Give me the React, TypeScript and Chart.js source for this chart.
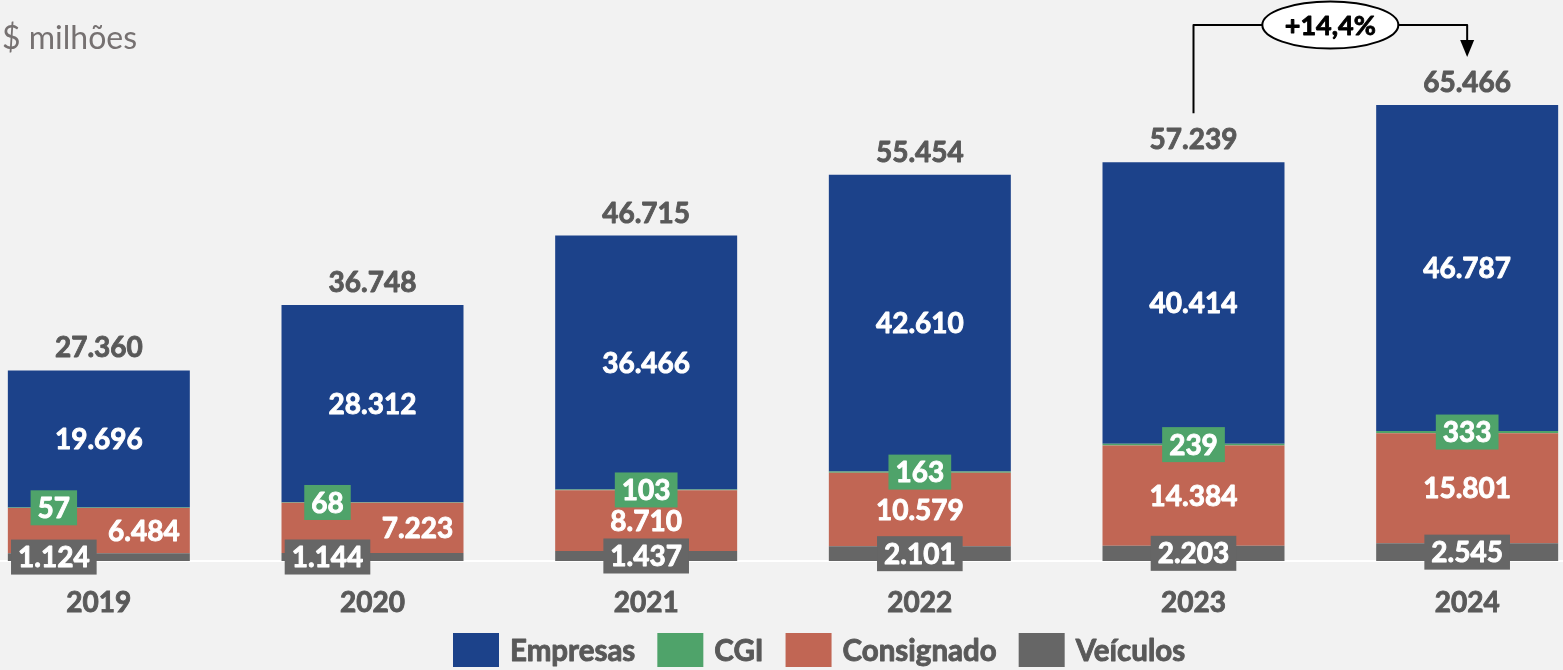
import React, { useEffect, useRef } from 'react';
import { Chart, registerables } from 'chart.js';

Chart.register(...registerables);

// ---- data ----
const years = ['2019', '2020', '2021', '2022', '2023', '2024'];
const veiculos = [1124, 1144, 1437, 2101, 2203, 2545];
const consignado = [6484, 7223, 8710, 10579, 14384, 15801];
const cgi = [57, 68, 103, 163, 239, 333];
const empresas = [19696, 28312, 36466, 42610, 40414, 46787];
const totals = [27360, 36748, 46715, 55454, 57239, 65466];
const growthLabel = '+14,4%';
const unitLabel = '$ milhões';

// ---- styles ----
const COLORS = {
  empresas: '#1C428A',
  cgi: '#4FA36A',
  consignado: '#C16654',
  veiculos: '#666666',
};
const TEXT_GRAY = '#595959';
const FONT = 'Lato, "Open Sans", sans-serif';
const SPLIT_IDX = [0, 1]; // categories whose small labels sit beside each other
const SPLIT_OFF = 45;
const CANVAS_LEFT = -38;
const CANVAS_W = 1642;
const CANVAS_H = 670;
const HEAVY = 0.9;

const fmt = (n: number) => String(n).replace(/\B(?=(\d{3})+(?!\d))/g, '.');

function heavyText(ctx: CanvasRenderingContext2D, text: string, x: number, y: number, color: string) {
  ctx.fillStyle = color;
  ctx.strokeStyle = color;
  ctx.lineWidth = HEAVY;
  ctx.lineJoin = 'round';
  ctx.fillText(text, x, y);
  ctx.strokeText(text, x, y);
}

function drawBox(ctx: CanvasRenderingContext2D, text: string, x: number, y: number, color: string) {
  const w = ctx.measureText(text).width;
  ctx.fillStyle = color;
  ctx.fillRect(x - w / 2 - 7, y - 17.5, w + 14, 35);
  heavyText(ctx, text, x, y + 1, '#FFFFFF');
}

const labelsPlugin = {
  id: 'customLabels',
  afterDatasetsDraw(chart: any) {
    const ctx: CanvasRenderingContext2D = chart.ctx;
    const metas = [0, 1, 2, 3].map((i) => chart.getDatasetMeta(i));
    ctx.save();
    ctx.textAlign = 'center';
    ctx.textBaseline = 'middle';
    ctx.font = `bold 28px ${FONT}`;
    years.forEach((_, j) => {
      const split = SPLIT_IDX.includes(j);
      const v = metas[0].data[j];
      const c = metas[1].data[j];
      const g = metas[2].data[j];
      const e = metas[3].data[j];
      heavyText(ctx, fmt(empresas[j]), e.x, (e.y + e.base) / 2 + 1, '#FFFFFF');
      heavyText(ctx, fmt(consignado[j]), c.x + (split ? SPLIT_OFF : 0), (c.y + c.base) / 2 + 1, '#FFFFFF');
      drawBox(ctx, fmt(veiculos[j]), v.x - (split ? SPLIT_OFF : 0), (v.y + v.base) / 2, COLORS.veiculos);
      drawBox(ctx, fmt(cgi[j]), g.x - (split ? SPLIT_OFF : 0), (g.y + g.base) / 2, COLORS.cgi);
      heavyText(ctx, fmt(totals[j]), e.x, e.y - 22, TEXT_GRAY);
    });

    // unit label
    ctx.textAlign = 'left';
    ctx.font = `32px ${FONT}`;
    ctx.fillStyle = '#767171';
    ctx.fillText(unitLabel, 2 - CANVAS_LEFT, 39);

    // legend
    const items = [
      { label: 'Empresas', color: COLORS.empresas },
      { label: 'CGI', color: COLORS.cgi },
      { label: 'Consignado', color: COLORS.consignado },
      { label: 'Veículos', color: COLORS.veiculos },
    ];
    ctx.font = `bold 29.5px ${FONT}`;
    const widths = items.map((it) => ctx.measureText(it.label).width);
    let lx = 453 - CANVAS_LEFT;
    items.forEach((it, i) => {
      ctx.fillStyle = it.color;
      ctx.fillRect(lx, 633, 46, 34);
      lx += 57;
      heavyText(ctx, it.label, lx, 651, TEXT_GRAY);
      lx += widths[i] + 22;
    });

    // growth annotation between last two bars
    const a = metas[3].data[4];
    const b = metas[3].data[5];
    const lineY = 25;
    ctx.strokeStyle = '#000000';
    ctx.lineWidth = 2;
    ctx.beginPath();
    ctx.moveTo(a.x, a.y - 49);
    ctx.lineTo(a.x, lineY);
    ctx.lineTo(b.x, lineY);
    ctx.lineTo(b.x, b.y - 64);
    ctx.stroke();
    ctx.fillStyle = '#000000';
    ctx.beginPath();
    ctx.moveTo(b.x - 7, b.y - 65);
    ctx.lineTo(b.x + 7, b.y - 65);
    ctx.lineTo(b.x, b.y - 48);
    ctx.closePath();
    ctx.fill();
    const mx = (a.x + b.x) / 2;
    ctx.beginPath();
    ctx.ellipse(mx, lineY, 68, 23.5, 0, 0, Math.PI * 2);
    ctx.fillStyle = '#FFFFFF';
    ctx.fill();
    ctx.lineWidth = 2;
    ctx.stroke();
    ctx.textAlign = 'center';
    ctx.font = `bold 27px ${FONT}`;
    heavyText(ctx, growthLabel, mx, lineY + 1, '#000000');
    ctx.restore();
  },
};

export default function App() {
  const ref = useRef<HTMLCanvasElement | null>(null);
  useEffect(() => {
    if (!ref.current) return;
    const bar = { categoryPercentage: 1, barPercentage: 0.665, borderWidth: 0 };
    const chart = new Chart(ref.current, {
      type: 'bar',
      data: {
        labels: years,
        datasets: [
          { label: 'Veículos', data: veiculos, backgroundColor: COLORS.veiculos, ...bar },
          { label: 'Consignado', data: consignado, backgroundColor: COLORS.consignado, ...bar },
          { label: 'CGI', data: cgi, backgroundColor: COLORS.cgi, ...bar },
          { label: 'Empresas', data: empresas, backgroundColor: COLORS.empresas, ...bar },
        ],
      },
      options: {
        responsive: false,
        animation: false,
        layout: { padding: { top: 3.7, left: 0, right: 0, bottom: 0 } },
        plugins: { legend: { display: false }, tooltip: { enabled: false } },
        scales: {
          x: {
            stacked: true,
            grid: { display: false, drawTicks: false },
            border: { display: true, color: '#FFFFFF', width: 2 },
            ticks: {
              color: TEXT_GRAY,
              font: { family: FONT, size: 28, weight: 'bold' },
              padding: 25,
              textStrokeColor: TEXT_GRAY,
              textStrokeWidth: HEAVY,
            },
            afterFit: (s: any) => {
              s.height = 109;
            },
          },
          y: { stacked: true, display: false, min: 0, max: 80000 },
        },
      },
      plugins: [labelsPlugin],
    } as any);
    return () => chart.destroy();
  }, []);
  return (
    <div style={{ position: 'fixed', left: 0, top: 0, width: 1563, height: 670, overflow: 'hidden', background: '#F2F2F2' }}>
      <canvas
        ref={ref}
        width={CANVAS_W}
        height={CANVAS_H}
        style={{ position: 'absolute', left: CANVAS_LEFT, top: 0, width: CANVAS_W, height: CANVAS_H }}
      />
    </div>
  );
}
